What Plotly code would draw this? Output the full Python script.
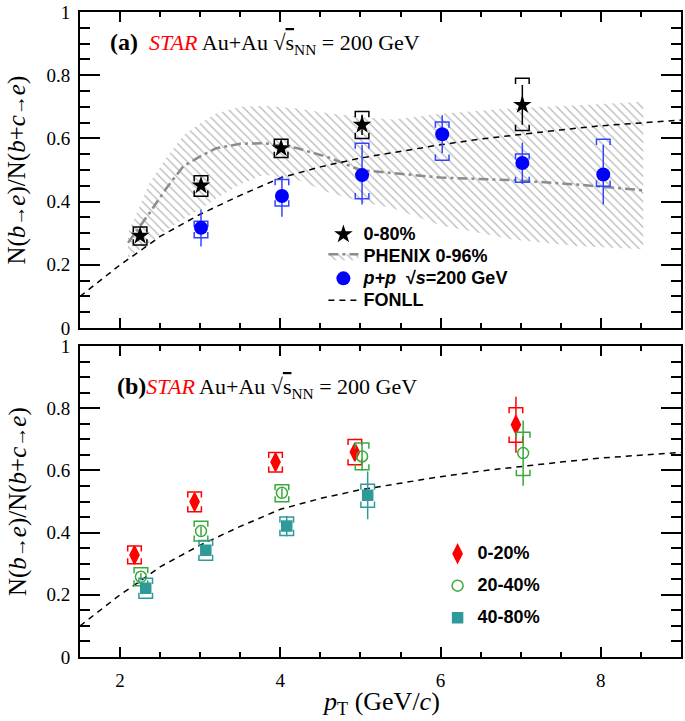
import plotly.graph_objects as go

# ---------------- data: panel (a) ----------------
pt_star = [2.25, 3.01, 4.01, 5.02, 7.02]
r_star = [0.292, 0.451, 0.569, 0.643, 0.706]
stat_star = [0.008, 0.010, 0.010, 0.032, 0.063]
sys_star_hi = [0.320, 0.482, 0.597, 0.685, 0.790]
sys_star_lo = [0.263, 0.417, 0.540, 0.600, 0.625]

pt_pp = [3.01, 4.02, 5.02, 6.02, 7.02, 8.03]
r_pp = [0.317, 0.418, 0.484, 0.613, 0.522, 0.486]
stat_pp_hi = [0.375, 0.482, 0.580, 0.673, 0.587, 0.580]
stat_pp_lo = [0.258, 0.352, 0.391, 0.553, 0.456, 0.391]
sys_pp_hi = [0.338, 0.470, 0.585, 0.652, 0.551, 0.597]
sys_pp_lo = [0.286, 0.386, 0.409, 0.531, 0.461, 0.449]

phx_pt = [2.10, 2.37, 2.58, 2.79, 3.0, 3.2, 3.5, 3.8, 4.2, 4.6, 5.0, 5.4, 6.0, 6.9, 7.7, 8.53]
phx_mid = [0.270, 0.365, 0.443, 0.512, 0.543, 0.569, 0.583, 0.585, 0.570, 0.540, 0.500, 0.490, 0.476, 0.468, 0.454, 0.436]
phx_hi = [0.300, 0.460, 0.540, 0.610, 0.648, 0.679, 0.700, 0.703, 0.695, 0.680, 0.668, 0.660, 0.678, 0.695, 0.705, 0.716]
phx_lo = [0.223, 0.270, 0.310, 0.345, 0.375, 0.410, 0.455, 0.485, 0.470, 0.430, 0.400, 0.380, 0.325, 0.280, 0.260, 0.249]

fonll_pt = [1.5, 2.0, 2.25, 2.5, 3.0, 3.5, 4.0, 4.5, 5.0, 5.5, 6.0, 6.5, 7.0, 7.5, 8.0, 8.5, 9.0]
fonll_r = [0.100, 0.200, 0.244, 0.290, 0.360, 0.420, 0.475, 0.510, 0.538, 0.560, 0.580, 0.598, 0.613, 0.627, 0.640, 0.650, 0.658]

# ---------------- data: panel (b) ----------------
pt_c1 = [2.18, 2.93, 3.94, 4.93, 6.94]
r_c1 = [0.328, 0.499, 0.627, 0.659, 0.747]
stat_c1 = [0.012, 0.012, 0.012, 0.015, 0.090]
sys_c1_hi = [0.357, 0.531, 0.658, 0.700, 0.802]
sys_c1_lo = [0.300, 0.467, 0.595, 0.618, 0.691]

pt_c2 = [2.26, 3.01, 4.02, 5.02, 7.03]
r_c2 = [0.258, 0.405, 0.528, 0.645, 0.656]
stat_c2 = [0.012, 0.015, 0.015, 0.045, 0.105]
sys_c2_hi = [0.287, 0.437, 0.554, 0.688, 0.723]
sys_c2_lo = [0.229, 0.373, 0.499, 0.602, 0.584]

pt_c3 = [2.32, 3.07, 4.08, 5.09]
r_c3 = [0.221, 0.343, 0.421, 0.520]
stat_c3 = [0.012, 0.012, 0.033, 0.077]
sys_c3_hi = [0.253, 0.375, 0.450, 0.556]
sys_c3_lo = [0.189, 0.311, 0.391, 0.482]

# ---------------- styles ----------------
BLUE = "#0000ff"
BLUE_L = "#3344ff"
RED = "#ff0000"
GREEN = "#3aa83a"
TEAL = "#2f9a9a"
SERIF = "Liberation Serif"
SANS = "Liberation Sans"
BW = 0.085   # half-width of systematic brackets (x units)
BD = 0.018   # bracket leg length (y units)


def brackets(xs, hi, lo):
    X, Y = [], []
    for x, h, l in zip(xs, hi, lo):
        dd = min(BD, (h - l) / 2.0)
        X += [x - BW, x - BW, x + BW, x + BW, None, x - BW, x - BW, x + BW, x + BW, None]
        Y += [h - dd, h, h, h - dd, None, l + dd, l, l, l + dd, None]
    return X, Y


def lg(t):
    return "<span style='font-size:18px'>" + t + "</span>"


fig = go.Figure()

# PHENIX band (hatched) + central dash-dot line
fig.add_trace(go.Scatter(x=phx_pt, y=phx_lo, mode="lines", line=dict(width=0),
                         showlegend=False, hoverinfo="skip", xaxis="x", yaxis="y"))
pat = dict(shape="\\", fgcolor="#6e6e6e", bgcolor="rgba(255,255,255,0)", size=6, solidity=0.2)
fig.add_trace(go.Scatter(x=phx_pt, y=phx_mid, mode="lines", fill="tonexty",
                         fillcolor="rgba(0,0,0,0)", fillpattern=pat,
                         line=dict(color="#8c8c8c", width=2.5, dash="10px,4px,3px,4px"),
                         name=lg("PHENIX 0-96%"), legend="legend", legendrank=2,
                         xaxis="x", yaxis="y"))
fig.add_trace(go.Scatter(x=phx_pt, y=phx_hi, mode="lines", fill="tonexty",
                         fillcolor="rgba(0,0,0,0)", fillpattern=pat,
                         line=dict(width=0), showlegend=False, hoverinfo="skip",
                         xaxis="x", yaxis="y"))

# FONLL
fig.add_trace(go.Scatter(x=fonll_pt, y=fonll_r, mode="lines",
                         line=dict(color="black", width=1.5, dash="6px,5px"),
                         name=lg("FONLL"), legend="legend", legendrank=4, xaxis="x", yaxis="y"))
fig.add_trace(go.Scatter(x=fonll_pt, y=fonll_r, mode="lines",
                         line=dict(color="black", width=1.5, dash="6px,5px"),
                         showlegend=False, xaxis="x2", yaxis="y2"))

# systematic brackets, panel (a)
bx, by = brackets(pt_star, sys_star_hi, sys_star_lo)
fig.add_trace(go.Scatter(x=bx, y=by, mode="lines", line=dict(color="black", width=1.5),
                         showlegend=False, hoverinfo="skip", xaxis="x", yaxis="y"))
bx, by = brackets(pt_pp, sys_pp_hi, sys_pp_lo)
fig.add_trace(go.Scatter(x=bx, y=by, mode="lines", line=dict(color=BLUE_L, width=1.5),
                         showlegend=False, hoverinfo="skip", xaxis="x", yaxis="y"))

# points panel (a)
fig.add_trace(go.Scatter(x=pt_star, y=r_star, mode="markers",
                         marker=dict(symbol="star", size=14, color="black"),
                         error_y=dict(type="data", array=stat_star, color="black",
                                      thickness=1.5, width=0),
                         name=lg("0-80%"), legend="legend", legendrank=1, xaxis="x", yaxis="y"))
fig.add_trace(go.Scatter(x=pt_pp, y=r_pp, mode="markers",
                         marker=dict(symbol="circle", size=14, color=BLUE),
                         error_y=dict(type="data", symmetric=False,
                                      array=[h - r for h, r in zip(stat_pp_hi, r_pp)],
                                      arrayminus=[r - l for l, r in zip(stat_pp_lo, r_pp)],
                                      color=BLUE_L, thickness=1.5, width=0),
                         name=lg("<i>p+p</i>\u00a0 √<i>s</i>=200 GeV"), legend="legend", legendrank=3,
                         xaxis="x", yaxis="y"))

# panel (b)
for pts, r, st, hi, lo, col, sym, sz, nm in [
    (pt_c1, r_c1, stat_c1, sys_c1_hi, sys_c1_lo, RED, "diamond-tall", 13, "0-20%"),
    (pt_c2, r_c2, stat_c2, sys_c2_hi, sys_c2_lo, GREEN, "circle-open", 11, "20-40%"),
    (pt_c3, r_c3, stat_c3, sys_c3_hi, sys_c3_lo, TEAL, "square", 10, "40-80%"),
]:
    bx, by = brackets(pts, hi, lo)
    fig.add_trace(go.Scatter(x=bx, y=by, mode="lines", line=dict(color=col, width=1.5),
                             showlegend=False, hoverinfo="skip", xaxis="x2", yaxis="y2"))
    fig.add_trace(go.Scatter(x=pts, y=r, mode="markers",
                             marker=dict(symbol=sym, size=sz, color=col,
                                         line=dict(color=col, width=1.5)),
                             error_y=dict(type="data", array=st, color=col, thickness=1.5, width=0),
                             name=lg(nm), legend="legend2", legendgroup=nm, xaxis="x2", yaxis="y2"))

# ---------------- axes ----------------
xcommon = dict(range=[1.5, 9], tick0=0, dtick=2, ticks="inside", ticklen=10, tickwidth=2,
               tickcolor="black", showline=True, linewidth=2, linecolor="black",
               mirror="allticks", showgrid=False, zeroline=False,
               minor=dict(dtick=0.5, ticks="inside", ticklen=5, tickwidth=1.5, tickcolor="black"),
               tickfont=dict(family=SERIF, size=19, color="black"))
ycommon = dict(range=[0, 1], tick0=0, dtick=0.2, ticks="inside", ticklen=20, tickwidth=2,
               tickcolor="black", showline=True, linewidth=2, linecolor="black",
               mirror="allticks", showgrid=False, zeroline=False,
               minor=dict(dtick=0.05, ticks="inside", ticklen=10, tickwidth=1.5, tickcolor="black"),
               tickfont=dict(family=SERIF, size=19, color="black"), ticklabelstandoff=4)

LFONT = dict(family=SANS, size=14.6, color="black", weight="bold")
fig.update_layout(
    width=685, height=721,
    margin=dict(l=80, r=2, t=8, b=64),
    paper_bgcolor="white", plot_bgcolor="white",
    xaxis=dict(xcommon, anchor="y", showticklabels=False),
    yaxis=dict(ycommon, domain=[0.510, 1.0], anchor="x"),
    xaxis2=dict(xcommon, anchor="y2", ticklabelstandoff=5),
    yaxis2=dict(ycommon, domain=[0.0, 0.482], anchor="x2"),
    legend=dict(x=0.405, y=0.68, xanchor="left", yanchor="top", bgcolor="rgba(0,0,0,0)",
                font=LFONT, tracegroupgap=0, traceorder="normal"),
    legend2=dict(x=0.595, y=0.185, xanchor="left", yanchor="top", bgcolor="rgba(0,0,0,0)",
                 font=LFONT, tracegroupgap=10, traceorder="grouped"),
    showlegend=True,
)

arrow = "<span style='font-size:20px'>→</span>"
title_a = ("<span style='font-size:24px'><b>(a)</b></span>\u00a0\u00a0"
           "<span style='color:#ff0000'><i>STAR</i></span> Au+Au "
           "√<span style='text-decoration:overline'>s</span><sub>NN</sub> = 200 GeV")
title_b = ("<span style='font-size:24px'><b>(b)</b></span>"
           "<span style='color:#ff0000'><i>STAR</i></span> Au+Au "
           "√<span style='text-decoration:overline'>s</span><sub>NN</sub> = 200 GeV")
ylab = "N(<i>b</i>" + arrow + "<i>e</i>)/N(<i>b</i>+<i>c</i>" + arrow + "<i>e</i>)"

fig.add_annotation(text=title_a, xref="x domain", yref="y domain", x=0.046, y=0.90,
                   xanchor="left", yanchor="middle", showarrow=False,
                   font=dict(family=SERIF, size=22, color="black"))
fig.add_annotation(text=title_b, xref="x2 domain", yref="y2 domain", x=0.058, y=0.868,
                   xanchor="left", yanchor="middle", showarrow=False,
                   font=dict(family=SERIF, size=22, color="black"))
fig.add_annotation(text=ylab, xref="paper", yref="y domain", x=-0.104, y=0.5,
                   xanchor="center", yanchor="middle", textangle=-90, showarrow=False,
                   font=dict(family=SERIF, size=25, color="black"))
fig.add_annotation(text=ylab, xref="paper", yref="y2 domain", x=-0.104, y=0.5,
                   xanchor="center", yanchor="middle", textangle=-90, showarrow=False,
                   font=dict(family=SERIF, size=25, color="black"))
fig.add_annotation(text="<i>p</i><sub>T</sub> (GeV/<i>c</i>)", xref="x2 domain", yref="paper",
                   x=0.5, y=-0.072, xanchor="center", yanchor="middle", showarrow=False,
                   font=dict(family=SERIF, size=26, color="black"))

fig.write_html("out.html", config={"displayModeBar": False},
               post_script="document.body.style.margin='0px';document.body.style.overflow='hidden';")
